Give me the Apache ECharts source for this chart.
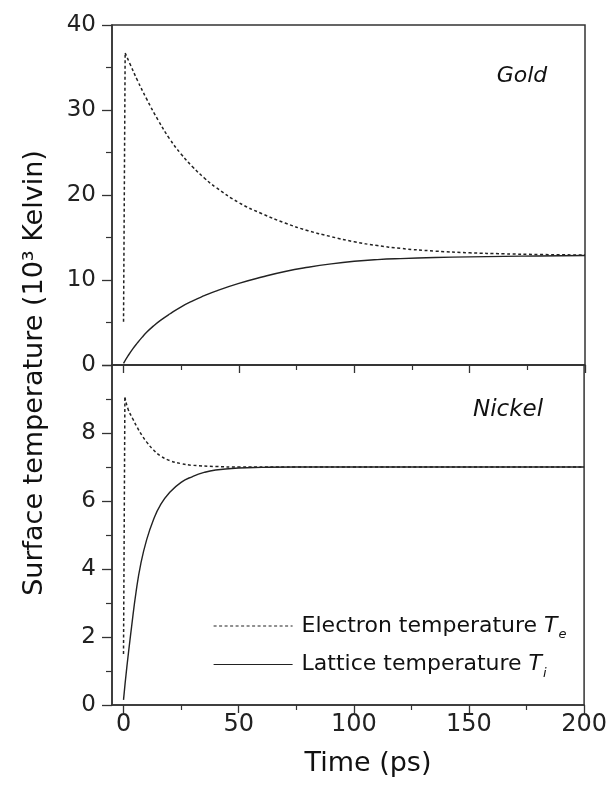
<!DOCTYPE html>
<html><head><meta charset="utf-8">
<script src="https://cdn.jsdelivr.net/npm/echarts@6/dist/echarts.min.js"></script>
<style>html,body{margin:0;padding:0;background:#fff}#c{width:610px;height:792px}</style>
</head><body><div id="c"></div>
<script>
// ---- Data ----
// Initial sharp rise of the electron temperature (at t = 0)
const goldRiseTime = [0, 0.7];
const goldRise     = [5.1, 36.7];
const goldTeTime = [0.7, 3, 6, 10, 15, 20, 25, 30, 35, 40, 50, 60, 70, 80, 90, 100, 110, 120, 135, 150, 165, 180, 200];
const goldTe     = [36.7, 35.3, 33.5, 31.3, 28.8, 26.6, 24.8, 23.3, 22.0, 20.9, 19.1, 17.8, 16.7, 15.8, 15.1, 14.5, 14.05, 13.72, 13.4, 13.2, 13.08, 13.0, 12.94];
const goldTiTime = [0, 2, 4, 6, 8, 10, 13, 16, 20, 25, 30, 35, 40, 50, 60, 70, 80, 90, 100, 110, 120, 135, 150, 165, 180, 200];
const goldTi     = [0.2, 1.1, 1.9, 2.6, 3.25, 3.85, 4.6, 5.25, 6.0, 6.85, 7.55, 8.15, 8.7, 9.6, 10.35, 11.0, 11.5, 11.9, 12.2, 12.4, 12.52, 12.64, 12.72, 12.78, 12.83, 12.88];
const nickelRiseTime = [0, 0.6];
const nickelRise     = [1.5, 9.05];
const nickelTeTime = [0.6, 2, 4, 6, 8, 10, 13, 16, 20, 25, 30, 40, 50, 75, 100, 150, 200];
const nickelTe     = [9.05, 8.7, 8.42, 8.16, 7.93, 7.74, 7.5, 7.33, 7.19, 7.1, 7.05, 7.015, 7.0, 7.0, 7.0, 7.0, 7.0];
const nickelTiTime = [0, 1.5, 3.5, 5.5, 7.5, 10, 13, 16, 20, 25, 30, 35, 40, 50, 60, 75, 100, 150, 200];
const nickelTi     = [0.15, 1.15, 2.3, 3.35, 4.15, 4.85, 5.45, 5.88, 6.25, 6.55, 6.72, 6.84, 6.91, 6.97, 6.99, 7.0, 7.0, 7.0, 7.0];
const xMajorTicks = [0, 50, 100, 150, 200];
const xMinorTicks = [25, 75, 125, 175];
const seriesNames = ['Electron temperature', 'Lattice temperature'];
const panelNames = ['Gold', 'Nickel'];

const pairs = (xs, ys) => xs.map((x, i) => [x, ys[i]]);
const AX = '#333';
const NUMFONT = 'DejaVu Sans';
const TXTFONT = 'DejaVu Sans';

function majorX(gi) {
  return {
    type: 'value', gridIndex: gi, min: -5, max: 200,
    axisLine: { show: true, onZero: false, lineStyle: { color: AX, width: 1.5 } },
    axisTick: { show: true, customValues: xMajorTicks, length: 8, lineStyle: { color: AX, width: 1.3 } },
    axisLabel: { show: gi === 1, customValues: xMajorTicks, margin: 8, fontSize: 24, fontFamily: NUMFONT, color: '#222' },
    splitLine: { show: false }
  };
}
function minorX(gi) {
  return {
    type: 'value', gridIndex: gi, min: -5, max: 200, position: 'bottom',
    axisLine: { show: false },
    axisTick: { show: true, customValues: xMinorTicks, length: 5, lineStyle: { color: AX, width: 1.2 } },
    axisLabel: { show: false },
    splitLine: { show: false }
  };
}
function yAx(gi, max, interval, hideTop) {
  return {
    type: 'value', gridIndex: gi, min: 0, max: max, interval: interval,
    axisLine: { show: true, onZero: false, lineStyle: { color: AX, width: 1.5 } },
    axisTick: { show: true, length: 10, lineStyle: { color: AX, width: 1.3 } },
    minorTick: { show: true, splitNumber: 2, length: 6, lineStyle: { color: AX, width: 1.2 } },
    axisLabel: { margin: 16, fontSize: 23, fontFamily: NUMFONT, color: '#222',
      formatter: v => (hideTop && v === max) ? '' : String(v) },
    splitLine: { show: false }
  };
}
function lineSeries(name, xi, yi, data, dashed, smooth) {
  return {
    name: name, type: 'line', xAxisIndex: xi, yAxisIndex: yi, data: data,
    showSymbol: false, symbol: 'none', smooth: smooth,
    lineStyle: { color: '#222', width: dashed ? 1.5 : 1.4, type: dashed ? [3, 2.5] : 'solid' },
    itemStyle: { color: '#222' },
    silent: true, animation: false
  };
}

const chart = echarts.init(document.getElementById('c'), null, { renderer: 'canvas' });
chart.setOption({
  backgroundColor: '#fff',
  animation: false,
  grid: [
    { left: 112, top: 25, width: 473, height: 340, show: true, borderColor: AX, borderWidth: 1.5, backgroundColor: 'transparent' },
    { left: 112, top: 365, width: 473, height: 340, show: true, borderColor: AX, borderWidth: 1.5, backgroundColor: 'transparent' }
  ],
  xAxis: [majorX(0), majorX(1), minorX(0), minorX(1)],
  yAxis: [yAx(0, 40, 10, false), yAx(1, 10, 2, true)],
  legend: {
    data: seriesNames, orient: 'vertical', left: 208, top: 610,
    itemWidth: 79, itemHeight: 14, itemGap: 12, selectedMode: false,
    itemStyle: { opacity: 0, borderWidth: 0 },
    lineStyle: { width: 1.2 },
    formatter: n => n === seriesNames[0] ? '{n|Electron temperature }{t|T}{s|e}' : '{n|Lattice temperature }{t|T}{s|i}',
    textStyle: {
      rich: {
        n: { fontSize: 22, fontFamily: TXTFONT, color: '#111', padding: [0, 0, 0, 4] },
        t: { fontSize: 22, fontFamily: TXTFONT, fontStyle: 'italic', color: '#111' },
        s: { fontSize: 13, fontFamily: TXTFONT, fontStyle: 'italic', color: '#111', padding: [18, 0, 0, 1] }
      }
    }
  },
  graphic: [
    { type: 'text', x: 35, y: 373, rotation: Math.PI / 2, silent: true,
      style: { text: 'Surface temperature (10³ Kelvin)', fontSize: 27, fontFamily: TXTFONT, fill: '#111', align: 'center', verticalAlign: 'middle' } },
    { type: 'text', x: 368, y: 764, silent: true,
      style: { text: 'Time (ps)', fontSize: 27, fontFamily: TXTFONT, fill: '#111', align: 'center', verticalAlign: 'middle' } },
    { type: 'text', x: 522, y: 76, silent: true,
      style: { text: panelNames[0], fontSize: 22, fontFamily: TXTFONT, fontStyle: 'italic', fill: '#111', align: 'center', verticalAlign: 'middle' } },
    { type: 'text', x: 508, y: 410, silent: true,
      style: { text: panelNames[1], fontSize: 23, fontFamily: TXTFONT, fontStyle: 'italic', fill: '#111', align: 'center', verticalAlign: 'middle' } }
  ],
  series: [
    lineSeries(seriesNames[0], 0, 0, pairs(goldRiseTime, goldRise), true, false),
    lineSeries(seriesNames[0], 0, 0, pairs(goldTeTime, goldTe), true, 0.5),
    lineSeries(seriesNames[1], 0, 0, pairs(goldTiTime, goldTi), false, 0.5),
    lineSeries(seriesNames[0], 1, 1, pairs(nickelRiseTime, nickelRise), true, false),
    lineSeries(seriesNames[0], 1, 1, pairs(nickelTeTime, nickelTe), true, 0.5),
    lineSeries(seriesNames[1], 1, 1, pairs(nickelTiTime, nickelTi), false, 0.5)
  ]
});
</script></body></html>
